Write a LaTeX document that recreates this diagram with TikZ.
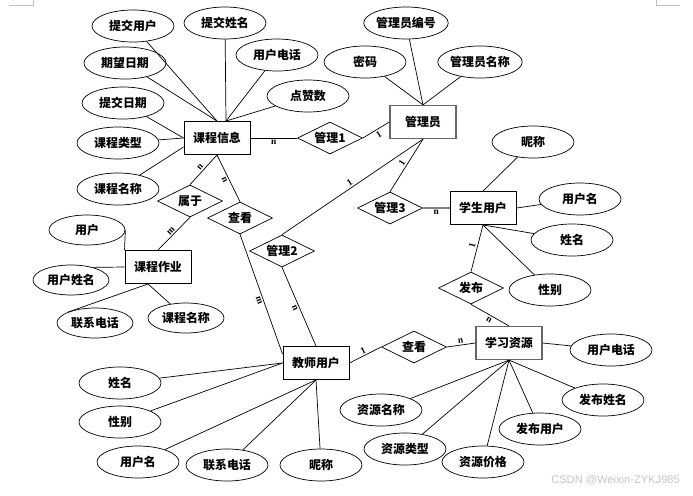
\documentclass[tikz,border=0pt]{standalone}
\usepackage{fontspec}
\setmainfont{Liberation Serif}
\newfontfamily\cjk{Noto Sans CJK SC}
\newfontfamily\wmfont{Liberation Sans}
\usetikzlibrary{shapes.geometric, calc}

\begin{document}
\begin{tikzpicture}[x=0.03cm, y=-0.03cm, line width=0.6pt,
	ent/.style={draw, line width=0.8pt, minimum width=1.98cm, minimum height=0.99cm, inner sep=0pt, font=\cjk\bfseries\fontsize{10.2}{12}\selectfont},
	rel/.style={draw, diamond, aspect=2, minimum width=1.95cm, minimum height=0.96cm, inner sep=0pt, font=\cjk\bfseries\fontsize{10.2}{12}\selectfont},
	attr/.style={draw, ellipse, minimum width=2.46cm, minimum height=0.96cm, inner sep=0pt, font=\cjk\bfseries\fontsize{10.2}{12}\selectfont},
	sattr/.style={attr, minimum width=2.28cm, minimum height=0.9cm},
	lab/.style={inner sep=1.5pt, font=\bfseries\fontsize{8}{9}\selectfont},
	wm/.style={text=gray!45, font=\wmfont\fontsize{9.5}{11}\selectfont}]
	\useasboundingbox (0,0) rectangle (693,495);
	\draw[gray!50, line width=0.5pt] (9,5) -- (33,5) -- (33,0);
	\draw[gray!50, line width=0.5pt] (656,0) -- (656,5) -- (680,5);

	% entities
	\node[ent] (kcxx) at (217,138) {课程信息};
	\node[ent, draw=gray!80!black, line width=1pt] (gly) at (423,122) {管理员};
	\node[ent] (xsyh) at (483,208) {学生用户};
	\node[ent] (kczy) at (158,267) {课程作业};
	\node[ent] (jsyh) at (316,363) {教师用户};
	\node[ent, draw=gray!80!black, line width=1pt] (xxzy) at (509,343) {学习资源};

	% relationships
	\node[rel] (gl1) at (330,138) {管理1};
	\node[rel] (gl2) at (282,251) {管理2};
	\node[rel] (gl3) at (390,208) {管理3};
	\node[rel] (sy) at (190,201) {属于};
	\node[rel] (ck1) at (240,218) {查看};
	\node[rel] (ck2) at (414,347) {查看};
	\node[rel] (fb) at (471,288) {发布};

	% attributes
	\node[attr] (tjyh) at (133,26) {提交用户};
	\node[attr] (tjxm) at (225,23) {提交姓名};
	\node[attr] (yhdh) at (277,55) {用户电话};
	\node[attr] (qwrq) at (125,63) {期望日期};
	\node[attr] (dzs) at (308,96) {点赞数};
	\node[attr] (tjrq) at (123,103) {提交日期};
	\node[attr] (kclx) at (118,143) {课程类型};
	\node[attr] (kcmc) at (118,189) {课程名称};
	\node[attr] (glybh) at (406,23) {管理员编号};
	\node[attr] (mm) at (365,62) {密码};
	\node[attr] (glymc) at (480,62) {管理员名称};
	\node[attr] (nc) at (533,142) {昵称};
	\node[attr] (yhm) at (580,199) {用户名};
	\node[attr] (xm) at (572,240) {姓名};
	\node[attr] (xb) at (550,290) {性别};
	\node[sattr] (yh) at (87,230) {用户};
	\node[sattr] (yhxm) at (71,280) {用户姓名};
	\node[sattr] (lxdh) at (95,323) {联系电话};
	\node[sattr] (kcmc2) at (186,318) {课程名称};
	\node[attr] (txm) at (120,383) {姓名};
	\node[attr] (txb) at (120,422) {性别};
	\node[attr] (tyhm) at (138,462) {用户名};
	\node[attr] (tlxdh) at (227,465) {联系电话};
	\node[attr] (tnc) at (321,465) {昵称};
	\node[attr] (zydh) at (611,350) {用户电话};
	\node[attr] (fbxm) at (603,400) {发布姓名};
	\node[attr] (fbyh) at (540,429) {发布用户};
	\node[attr] (zymc) at (381,410) {资源名称};
	\node[attr] (zylx) at (405,449) {资源类型};
	\node[attr] (zyjg) at (483,462) {资源价格};

	% attribute lines
	\draw (tjyh) -- (kcxx.north);
	\draw (qwrq) -- (kcxx.north);
	\draw (tjxm) -- ($(kcxx.north)+(9,0)$);
	\draw (yhdh) -- ($(kcxx.north)+(9,0)$);
	\draw (dzs) -- ($(kcxx.north)+(9,0)$);
	\draw (tjrq) -- (kcxx.west);
	\draw (kclx) -- (kcxx.west);
	\draw (kcmc) -- ($(kcxx.west)+(0,9)$);
	\draw (glybh) -- (gly.north);
	\draw (mm) -- (gly.north);
	\draw (glymc) -- (gly.north);
	\draw (nc) -- (xsyh.north);
	\draw (yhm) -- (xsyh.east);
	\draw (xm) -- (xsyh.south);
	\draw (xb) -- (xsyh.south);
	\draw (yh.east) -- (kczy.north west);
	\draw (yhxm.30) -- (kczy.west);
	\draw (lxdh.north west) -- ($(kczy.south)+(-10,0)$);
	\draw (kcmc2) -- ($(kczy.south)+(-10,0)$);
	\draw (txm) -- (jsyh.west);
	\draw (txb) -- (jsyh.west);
	\draw (tyhm) -- (jsyh.south);
	\draw (tlxdh) -- (jsyh.south);
	\draw (tnc) -- (jsyh.south);
	\draw (zydh) -- (xxzy.east);
	\draw (fbxm) -- (xxzy.south);
	\draw (fbyh) -- (xxzy.south);
	\draw (zyjg) -- (xxzy.south);
	\draw (zylx) -- (xxzy.south);
	\draw (zymc) -- (xxzy.south);

	% relationship lines
	\draw (kcxx.east) -- node[lab, below] (c1) {n} (gl1.west);
	\draw (gl1.east) -- node[lab, sloped, below] (c2) {1} (gly.west);
	\draw (gly.south) -- node[lab, sloped, above] (c3) {1} (gl3.north);
	\draw (gly.south) -- node[lab, sloped, above] (c4) {1} (gl2.north);
	\draw[gray, line width=1.2pt] (gl3.east) -- node[lab, below, text=black] (c5) {n} (xsyh.west);
	\draw (xsyh.south) -- node[lab, pos=.47, sloped, above] (c6) {1} (fb.north);
	\draw (fb.south) -- node[lab, pos=.53, sloped, below] (c7) {n} (xxzy.north);
	\draw (jsyh.east) -- node[lab, sloped, above] (c8) {1} (ck2.west);
	\draw (ck2.east) -- node[lab, sloped, above] (c9) {n} (xxzy.west);
	\draw (kcxx.south) -- node[lab, sloped, above] (c10) {n} (sy.north);
	\draw (kcxx.south) -- node[lab, pos=.49, sloped, below] (c11) {n} (ck1.north);
	\draw (sy.south) -- node[lab, sloped, above] (c12) {m} (kczy.north);
	\draw (ck1.south) -- node[lab, pos=.54, sloped, below] (c13) {m} ($(jsyh.north west)+(0,8)$);
	\draw (gl2.south) -- node[lab, sloped, below] (c14) {n} (jsyh.north);

	\node[wm, anchor=west] (wmark) at (547,480) {CSDN @Weixin-ZYKJ985};
\end{tikzpicture}
\end{document}
